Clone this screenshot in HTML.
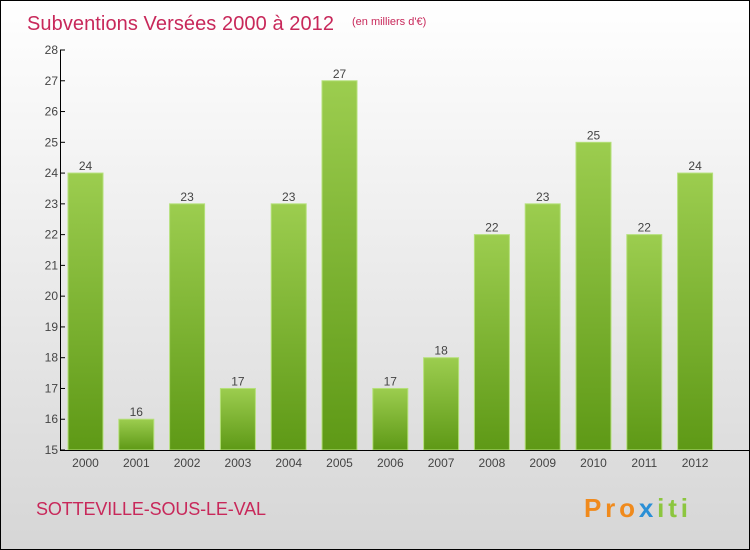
<!DOCTYPE html>
<html><head><meta charset="utf-8"><style>
body{margin:0;}
#c{width:748px;height:548px;border:1px solid #000;position:relative;background:linear-gradient(#ffffff,#d6d6d6);font-family:"Liberation Sans",sans-serif;overflow:hidden}
</style></head><body>
<div id="c">
<svg width="748" height="548" viewBox="0 0 748 548" id="svg">
<defs><linearGradient id="g" x1="0" y1="0" x2="0" y2="1"><stop offset="0" stop-color="#9ccd4f"/><stop offset="1" stop-color="#5e9916"/></linearGradient></defs>
<text x="26" y="29" font-size="20" fill="#c8285a" textLength="307">Subventions Versées 2000 à 2012</text>
<text x="351" y="24" font-size="11" fill="#c8285a">(en milliers d'€)</text>
<text x="35" y="514" font-size="18" fill="#c8285a" textLength="230">SOTTEVILLE-SOUS-LE-VAL</text>
<text x="583" y="516" font-size="26" font-weight="bold" fill="#f08a1c" textLength="104">Pro<tspan fill="#2a8fd6">x</tspan><tspan fill="#8cc63f">iti</tspan></text>
<g id="plot"></g>
</svg>
</div>
<script>
const categories=["2000","2001","2002","2003","2004","2005","2006","2007","2008","2009","2010","2011","2012"];
const values=[24,16,23,17,23,27,17,18,22,23,25,22,24];
const yTicks=[15,16,17,18,19,20,21,22,23,24,25,26,27,28];
const ns="http://www.w3.org/2000/svg";
const g=document.getElementById('plot');
const y=v=>449-(v-15)*(400/13);
const x=i=>84.5+i*50.8;
function mk(t,a){const e=document.createElementNS(ns,t);for(const k in a)e.setAttribute(k,a[k]);g.appendChild(e);return e;}
values.forEach((v,i)=>{
 const r=mk('rect',{x:x(i)-17.5,y:y(v),width:35,height:449-y(v),fill:'url(#g)',stroke:'#b5e07a','stroke-width':1});
 
 
 const t=mk('text',{x:x(i),y:y(v)-3,'font-size':12,fill:'#444','text-anchor':'middle'});t.textContent=v;
 
 
 const c=mk('text',{x:x(i),y:466,'font-size':12,fill:'#444','text-anchor':'middle'});c.textContent=categories[i];
 
 
});
yTicks.forEach(v=>{
 const l=mk('line',{x1:59,x2:64,y1:y(v),y2:y(v),stroke:'#000'});
 
 
 const t=mk('text',{x:57,y:y(v)+4,'font-size':12,fill:'#444','text-anchor':'end'});t.textContent=v;
 
 
});
const ya=mk('line',{x1:59.5,x2:59.5,y1:y(28),y2:449.5,stroke:'#000'});


const xa=mk('line',{x1:59,x2:748,y1:449.5,y2:449.5,stroke:'#000'});


</script>
</body></html>
